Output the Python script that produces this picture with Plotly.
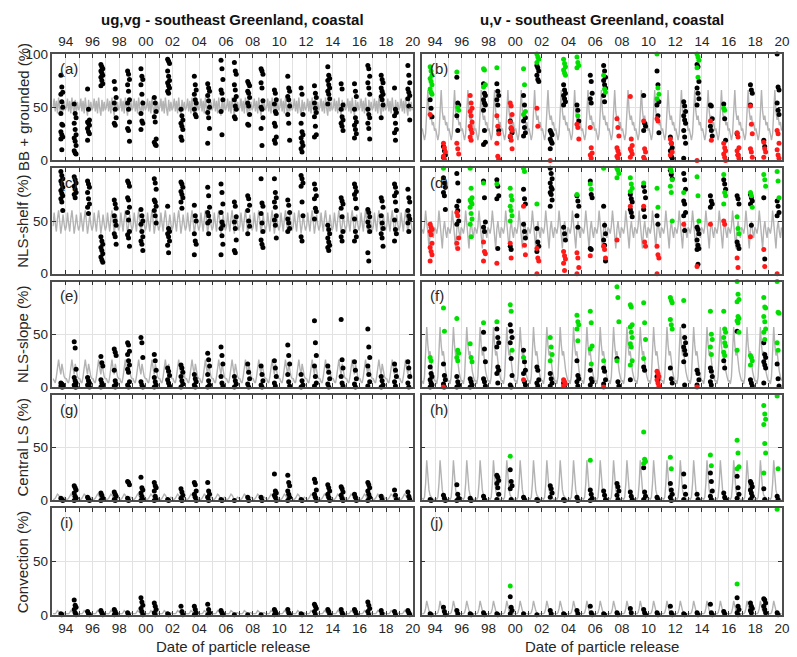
import plotly.graph_objects as go

W, H = 797, 657

years = list(range(1993, 2020))
release_offsets = [0.63, 0.70, 0.77]
label_years = [1994, 1996, 1998, 2000, 2002, 2004, 2006, 2008, 2010, 2012, 2014, 2016,
               2018, 2020]
label_text = ["94", "96", "98", "00", "02", "04", "06", "08", "10", "12", "14", "16",
              "18", "20"]
minor_years = list(range(1993, 2021))

# ---------------- left column (ug,vg) black dots, one list per year 1993..2019
a_black = [[80, 69, 64, 62, 55, 50, 44, 34, 33, 27, 24, 22, 20, 10],
           [53, 44, 40, 35, 29, 24, 21, 18, 14, 9, 7, 6],
           [67, 48, 38, 36, 35, 33, 30, 27, 25, 19],
           [90, 88, 86, 84, 82, 80, 78, 75, 72, 70],
           [74, 67, 59, 54, 48, 40, 35, 33],
           [84, 81, 76, 71, 65, 57, 54, 48, 36, 30, 28, 18],
           [86, 79, 76, 71, 62, 54, 44, 37, 35, 29],
           [59, 54, 46, 41, 36, 20, 17, 15, 14],
           [95, 93, 91, 84, 79, 75, 73, 70, 68, 65, 63],
           [48, 42, 38, 35, 32, 29, 22, 19],
           [79, 71, 66, 62, 57, 54, 48, 43, 41],
           [72, 68, 65, 61, 56, 50, 45, 40, 30, 16],
           [94, 86, 76, 66, 63, 57, 46, 24],
           [92, 84, 81, 71, 66, 60, 57, 51, 48, 41, 39],
           [74, 72, 70, 65, 63, 59, 54, 51, 43, 34, 33],
           [86, 84, 81, 73, 68, 56, 50, 48, 40, 30, 14],
           [66, 63, 57, 53, 46, 44, 35, 32, 22, 19, 16],
           [79, 68, 65, 60, 57, 51, 43, 35, 19],
           [68, 62, 43, 35, 27, 24, 21, 17, 14, 11, 8],
           [70, 63, 59, 54, 49, 45, 41, 32, 24, 22],
           [88, 80, 77, 75, 71, 68, 65, 62, 58, 53],
           [72, 67, 52, 48, 41, 38, 35, 32, 28],
           [72, 65, 60, 48, 40, 36, 33, 29, 25, 21],
           [89, 86, 79, 73, 68, 62, 48, 43, 40, 35, 30, 20],
           [80, 76, 73, 68, 65, 62, 60, 57, 52, 40],
           [68, 48, 45, 42, 35, 29, 26, 19],
           [89, 80, 73, 67, 64, 61, 58, 51, 38]]

c_black = [[97, 93, 90, 88, 85, 82, 79, 76, 74, 71, 68, 60],
           [92, 89, 86, 83, 80, 77, 75, 72],
           [88, 85, 82, 77, 71, 66, 63, 57],
           [35, 31, 28, 25, 22, 19, 16, 13, 11],
           [70, 66, 62, 55, 50, 46, 38, 35, 28],
           [88, 86, 83, 72, 70, 63, 58, 51, 40, 37, 34, 26],
           [61, 55, 50, 47, 40, 35, 31, 28, 22],
           [90, 86, 80, 70, 68, 64, 60, 55, 48],
           [64, 43, 40, 38, 35, 31, 27, 20],
           [87, 85, 82, 78, 75, 72, 68, 62],
           [65, 55, 50, 38, 31, 28, 18],
           [82, 74, 63, 58, 55, 50, 48, 38],
           [85, 77, 66, 58, 49, 46, 43, 36, 28, 18],
           [68, 64, 54, 49, 43, 32, 22, 20],
           [74, 71, 65, 60, 50, 45, 38],
           [90, 67, 64, 57, 48, 40, 32, 28, 25],
           [90, 77, 72, 68, 63, 55, 51, 46, 34],
           [70, 65, 58, 52, 48, 43, 40],
           [93, 90, 86, 83, 68, 55, 35, 31],
           [85, 80, 74, 71, 62, 59, 52],
           [46, 42, 38, 34, 30, 27, 25, 22],
           [72, 69, 66, 62, 54, 40, 35, 31],
           [85, 82, 78, 75, 71, 62, 52, 40, 35, 31],
           [61, 58, 54, 49, 45, 40, 20, 12],
           [72, 69, 63, 55, 48, 43, 38, 34, 26],
           [85, 82, 77, 74, 68, 60, 51, 42, 38, 31],
           [80, 72, 68, 60, 55, 52, 48, 40]]

e_black = [[4, 3, 2, 1, 0, 0],
           [43, 37, 17, 9, 6, 4, 2, 0, 0],
           [9, 6, 4, 2, 1, 0],
           [29, 23, 20, 7, 4, 2, 0],
           [36, 33, 30, 16, 6, 3, 1, 0],
           [42, 40, 34, 31, 25, 21, 17, 14, 5, 2, 0],
           [47, 42, 28, 5, 2, 0],
           [31, 25, 16, 9, 5, 2, 0],
           [18, 15, 11, 7, 4, 1],
           [21, 18, 14, 10, 6, 3, 0],
           [12, 8, 5, 2, 0],
           [32, 26, 20, 12, 6, 2, 0],
           [38, 30, 22, 10, 4, 1],
           [10, 6, 3, 0],
           [22, 14, 8, 3, 0],
           [20, 12, 6, 2, 0],
           [25, 18, 10, 4, 1],
           [40, 30, 22, 12, 5, 1],
           [12, 6, 2, 0],
           [63, 42, 30, 20, 10, 4, 1],
           [20, 14, 8, 3, 0],
           [64, 26, 18, 10, 4, 1],
           [24, 16, 8, 3, 0],
           [55, 38, 28, 20, 12, 5, 1],
           [10, 6, 2, 0],
           [22, 16, 10, 5, 1],
           [24, 18, 10, 4, 0]]

g_black = [[2, 1, 0],
           [14, 12, 10, 7, 4, 2, 0],
           [3, 1, 0],
           [7, 5, 2, 0],
           [8, 6, 4, 1, 0],
           [18, 17, 15, 2, 0],
           [22, 12, 10, 7, 4, 1, 0],
           [17, 14, 12, 9, 4, 1, 0],
           [1, 0],
           [11, 8, 5, 2, 0],
           [17, 15, 9, 6, 3, 0],
           [17, 9, 6, 3, 0],
           [1, 0],
           [0],
           [3, 0],
           [3, 0],
           [25, 9, 7, 5, 3, 0],
           [24, 17, 14, 9, 6, 3, 0],
           [1, 0],
           [20, 17, 10, 6, 3, 0],
           [15, 12, 9, 6, 3, 0],
           [13, 11, 8, 5, 2, 0],
           [6, 3, 0],
           [17, 15, 12, 9, 6, 3, 0],
           [4, 1],
           [10, 5, 1],
           [8, 4, 1]]

i_black = [[1, 0],
           [14, 9, 7, 5, 2, 0],
           [3, 1, 0],
           [4, 2, 0],
           [5, 3, 1, 0],
           [2, 0],
           [16, 12, 9, 6, 3, 0],
           [11, 8, 5, 2, 0],
           [1, 0],
           [8, 3, 0],
           [8, 5, 2, 0],
           [10, 5, 2, 0],
           [4, 2, 0],
           [0],
           [0],
           [0],
           [5, 3, 1, 0],
           [5, 2, 0],
           [1, 0],
           [10, 8, 6, 3, 0],
           [5, 3, 0],
           [5, 2, 0],
           [5, 3, 0],
           [12, 9, 6, 3, 0],
           [4, 1],
           [3, 0],
           [4, 2, 0]]

# ---------------- right column (u,v): black, green, red dots per year 1993..2019
b_black = [[57, 49, 41], [13, 9, 5, 3], [78, 54, 52, 42, 28], [],
           [72, 63, 61, 57, 54, 52, 47, 28, 17, 15], [72, 65, 61, 57, 52, 28],
           [37, 30, 26, 22], [61, 52, 40, 37, 31, 26, 23], [89, 87, 84, 80, 76, 74],
           [28, 26, 24, 20, 18, 16, 11], [71, 66, 63, 61, 58, 55, 52], [52, 47, 37],
           [80, 74, 63, 58, 54], [89, 84, 78, 75, 71, 68, 61, 55], [], [],
           [61, 35, 32, 28], [84, 71, 55, 52, 42, 26], [22, 16, 12, 9, 4, 2],
           [55, 51, 46, 42, 38, 35, 28, 22, 16, 2], [90, 88, 74, 68, 63, 58, 52],
           [52, 51, 39, 32, 28, 23], [53, 39, 19], [25, 5], [71, 66, 63, 52],
           [19, 13], [100, 69, 66, 54, 47, 43]]
b_green = [[88, 84, 80, 77, 74, 71, 67, 64, 62], [], [83, 50, 47], [], [86, 85, 71, 69],
           [87], [], [86, 71, 46, 43], [100, 97, 95, 92], [], [95, 91, 88, 85, 82, 80],
           [97, 92, 89, 87, 42], [], [80, 67, 64], [], [], [], [100, 68, 62, 58], [], [],
           [100, 97, 94, 87, 78], [], [49, 47], [], [], [], []]
b_red = [[43], [16, 12, 8, 4, 1], [16, 11, 6], [61, 54, 49, 46, 42, 36, 32, 29, 26, 22, 19],
         [], [42, 32, 25, 16, 4, 1], [54, 51, 43, 36, 31, 28, 23, 19, 11], [], [49, 32],
         [0], [], [34, 31, 20], [31, 12, 7, 5, 2], [], [39, 31, 23, 12, 9, 6, 4, 2],
         [60, 20, 14, 11, 9, 6, 3], [37, 11, 8, 3, 1], [39, 37], [20, 16, 8, 5], [], [0],
         [37, 19], [16, 12, 9, 6, 3, 0], [26, 22, 12, 9, 5, 2], [51, 34, 25, 11, 8, 3],
         [17, 11, 8, 3], [28, 25, 16, 10, 5, 2]]

d_black = [[], [91, 86, 82, 77, 74, 61], [95, 86, 69, 64, 60, 50, 47], [],
           [88, 72, 49, 44, 40], [89, 83, 74, 71, 24], [26, 23], [80, 71, 66, 47, 40, 34],
           [43, 30, 26, 21], [100, 95, 90, 86, 82, 80, 77, 75, 70, 64], [44, 38, 32],
           [74, 69, 64, 55, 44], [88, 75, 72, 24, 23], [64, 46, 38, 32, 27, 12], [],
           [75, 71, 68, 61, 58, 54], [83, 78, 72, 61, 54], [55, 47], [98, 94, 90],
           [95, 89, 80, 69, 66, 58, 55, 41], [44, 42, 38, 32, 27, 24, 23, 9],
           [74, 69, 66, 63], [89, 85, 80], [74, 71, 66, 30, 27, 24], [75, 72, 69, 66, 46],
           [72, 14], [69, 64, 58, 55]]
d_green = [[], [100], [], [100, 81, 72, 70, 68, 66, 63, 57, 52, 47, 35], [86], [85],
           [81, 74, 70, 64, 60, 55, 50], [100, 97], [66], [], [], [75], [85, 80], [100],
           [100, 98, 95, 91], [91, 85, 81, 78], [86], [81, 63], [100, 97, 89, 83, 77, 50],
           [77], [92, 74, 50], [], [94, 77, 74, 66], [54, 43, 38], [77, 74, 63],
           [94, 89, 83], [97, 88, 72]]
d_red = [[47, 44, 42, 40, 37, 29, 25, 21, 18, 12], [], [58, 55, 34, 29, 24], [],
         [30, 21, 19, 12], [10], [29, 15], [64, 27, 18], [24, 15, 12, 0], [],
         [21, 17, 14, 10, 3], [20, 15, 6, 0], [17], [26, 23, 15], [32], [64],
         [64, 30, 26], [26, 18, 15, 0], [], [47], [7], [47], [50, 47], [15, 6], [35],
         [23, 7], [0]]

f_black = [[19, 13, 10, 7, 4, 2, 0], [22, 11, 7, 3, 0], [10, 5, 2, 0], [8, 5, 2, 0],
           [52, 36, 24, 8, 5, 1], [55, 47, 42, 38, 19, 16, 13, 4],
           [59, 53, 47, 42, 27, 11, 2, 0], [35, 24, 16, 13, 5, 2], [19, 16, 7, 4, 1],
           [13, 8, 4, 1], [4, 1], [25, 11, 8, 5, 1], [16, 8, 5, 2], [18, 15, 7, 3],
           [27, 5, 1], [7], [19, 16], [10, 7], [18, 8, 4],
           [58, 47, 42, 38, 35, 31, 24, 2], [16, 13, 7, 2], [18, 15, 10, 5, 2], [25, 18],
           [53], [7, 4, 1], [42, 31, 28, 24, 21, 18, 4], [22, 8, 1]]
f_green = [[28, 25], [75, 53], [65, 35, 32, 28, 25], [41, 28, 24], [61], [62],
           [78, 72, 35], [28], [], [47, 38, 31, 25], [], [68, 62, 59, 55, 44],
           [72, 61, 39, 36, 22], [25], [95, 85, 62, 25],
           [78, 76, 59, 57, 52, 47, 41, 38, 25, 21], [80, 61, 45, 27], [],
           [85, 82, 80, 64, 59, 55], [82], [], [72, 50, 45, 38, 31],
           [72, 55, 52, 47, 42, 39, 33, 30], [100, 88, 83, 81, 67, 65, 63, 61, 52, 35],
           [30, 28, 25, 21], [85, 76, 75, 67, 62, 55, 52, 45], [100, 71, 70, 42, 35]]
f_red = [[], [0], [], [], [], [], [], [7], [], [], [7, 5, 3, 1], [], [], [0], [], [], [],
         [15, 13, 10, 7, 4, 1], [], [], [0], [], [], [], [], [], []]

h_black = [[1, 0], [5, 2, 0], [15, 6, 2, 0], [2, 0], [4, 1], [24, 22, 19, 16, 12, 6, 1],
           [29, 18, 14, 11, 1], [3, 1], [1, 0], [14, 11, 7, 3], [1, 0], [3, 0],
           [10, 6, 2, 0], [9, 5, 1], [16, 13, 9, 5, 1], [8, 4, 1], [31, 8, 4, 1], [3, 1],
           [16, 10, 6, 3, 0], [25, 13, 6, 1], [6, 1], [26, 18, 9, 4, 1], [7, 3, 1],
           [23, 12, 6, 2], [18, 16, 13, 10, 7, 4, 1], [11, 1], [4, 1]]
h_green = [[], [], [], [], [], [], [42], [], [], [], [], [], [38], [], [], [],
           [65, 39, 37, 35], [], [41, 30], [], [], [43, 33], [], [57, 45, 32, 30], [],
           [90, 82, 77, 72, 54, 45, 26], [99, 30]]

j_black = [[1, 0], [7, 3, 0], [4, 1], [1, 0], [2, 0], [1, 0], [17, 7, 4, 1], [1], [0],
           [4, 1], [1, 0], [4, 1], [8, 2, 0], [1, 0], [2, 0], [6, 2], [5, 2, 0], [2, 0],
           [8, 2, 0], [1, 0], [2, 0], [10, 2, 0], [3, 1], [16, 8, 5, 2, 0],
           [11, 8, 6, 4, 2], [15, 14, 11, 8, 5, 2], [2, 0]]
j_green = [[], [], [], [], [], [], [27], [], [], [], [], [], [], [], [], [], [], [], [],
           [], [], [], [], [29], [], [], [99]]

# ---------------- gray seasonal curves (monthly values of one year, repeated each year)
a_cycle = [50, 58, 46, 56, 44, 59, 49, 42, 57, 46, 55, 47]
c_cycle = [45, 58, 48, 40, 52, 60, 50, 38, 46, 56, 47, 41]
e_cycle = [8, 5, 4, 10, 20, 26, 18, 12, 22, 15, 10, 8]
g_cycle = [1, 1, 2, 4, 6, 5, 2, 1, 1, 2, 3, 2]
i_cycle = [1, 1, 1, 2, 4, 3, 2, 1, 1, 2, 2, 1]
b_cycle = [30, 22, 19, 25, 45, 66, 46, 38, 42, 33, 36, 28]
d_cycle = [42, 38, 45, 60, 48, 40, 24, 42, 50, 40, 34, 44]
f_cycle = [6, 3, 10, 32, 57, 40, 30, 34, 22, 15, 10, 6]
h_cycle = [2, 1, 3, 16, 38, 20, 10, 5, 3, 2, 1, 1]
j_cycle = [1, 1, 2, 6, 13, 8, 4, 2, 1, 1, 1, 1]

GREEN = "#00e000"
RED = "#ff1a1a"
BLACK = "#000000"
GRAY = "#b3b3b3"

# panel layout in pixels
col_x = [(53, 417), (426, 790)]
row_y = [(48, 157), (165, 273), (281, 389), (397, 505), (513, 622)]

panels = [
    ("a", 0, 0, a_cycle, [(a_black, BLACK)]),
    ("b", 0, 1, b_cycle, [(b_black, BLACK), (b_green, GREEN), (b_red, RED)]),
    ("c", 1, 0, c_cycle, [(c_black, BLACK)]),
    ("d", 1, 1, d_cycle, [(d_black, BLACK), (d_green, GREEN), (d_red, RED)]),
    ("e", 2, 0, e_cycle, [(e_black, BLACK)]),
    ("f", 2, 1, f_cycle, [(f_black, BLACK), (f_green, GREEN), (f_red, RED)]),
    ("g", 3, 0, g_cycle, [(g_black, BLACK)]),
    ("h", 3, 1, h_cycle, [(h_black, BLACK), (h_green, GREEN)]),
    ("i", 4, 0, i_cycle, [(i_black, BLACK)]),
    ("j", 4, 1, j_cycle, [(j_black, BLACK), (j_green, GREEN)]),
]
ylabels = ["BB + grounded (%)", "NLS-shelf (%)", "NLS-slope (%)", "Central LS (%)",
           "Convection (%)"]

FONT = "Arial, Liberation Sans, Helvetica, sans-serif"
TXT = "#262626"

fig = go.Figure()
layout = {}
annotations = []

for k, (lab, r, c, cycle, groups) in enumerate(panels):
    n = k + 1
    xa = "x" if n == 1 else f"x{n}"
    ya = "y" if n == 1 else f"y{n}"
    lx, ly = [], []
    for yr in years:
        for m, v in enumerate(cycle):
            lx.append(yr + (m + 0.5) / 12)
            ly.append(v)
    fig.add_trace(go.Scatter(x=lx, y=ly, mode="lines", xaxis=xa, yaxis=ya,
                             line=dict(color=GRAY, width=1.4), showlegend=False,
                             hoverinfo="skip"))
    for data, col in groups:
        xs, ys = [], []
        for yr, vals in zip(years, data):
            for q, v in enumerate(vals):
                xs.append(yr + release_offsets[q % 3])
                ys.append(v)
        fig.add_trace(go.Scatter(x=xs, y=ys, mode="markers", xaxis=xa, yaxis=ya,
                                 marker=dict(color=col, size=5), cliponaxis=False,
                                 showlegend=False))
    x0, x1 = col_x[c]
    y0, y1 = row_y[r]
    xkey = "xaxis" if n == 1 else f"xaxis{n}"
    ykey = "yaxis" if n == 1 else f"yaxis{n}"
    show_x = (r == 0 or r == 4)
    layout[xkey] = dict(
        domain=[x0 / W, x1 / W], anchor=ya, range=[1993, 2020],
        tickmode="array", tickvals=label_years,
        ticktext=label_text if show_x else None,
        ticks="inside", ticklen=4, tickcolor="#333333", tickwidth=1,
        minor=dict(tickmode="array", tickvals=minor_years, ticks="inside", ticklen=4,
                   tickcolor="#333333", tickwidth=1, showgrid=True,
                   gridcolor="#e2e2e2", gridwidth=1),
        showline=True, mirror="ticks", linecolor="#4d4d4d", linewidth=1.5,
        showgrid=True, gridcolor="#e2e2e2", gridwidth=1, zeroline=False,
        showticklabels=show_x, side="top" if r == 0 else "bottom",
        ticklabelstandoff=1 if r == 0 else 0,
        tickfont=dict(family=FONT, size=13.5, color=TXT), fixedrange=True,
    )
    layout[ykey] = dict(
        domain=[1 - y1 / H, 1 - y0 / H], anchor=xa, range=[0, 100],
        tickmode="array", tickvals=[0, 50, 100] if r == 0 else [0, 50],
        ticks="inside", ticklen=4, tickcolor="#333333",
        showline=True, mirror="ticks", linecolor="#4d4d4d", linewidth=1.5,
        showgrid=True, gridcolor="#e2e2e2", zeroline=False,
        showticklabels=(c == 0), tickfont=dict(family=FONT, size=13.5, color=TXT),
        fixedrange=True,
    )
    annotations.append(dict(text=f"({lab})", x=(x0 + 6) / W, y=1 - (y0 + 4) / H,
                            xref="paper", yref="paper", xanchor="left", yanchor="top",
                            showarrow=False, font=dict(family=FONT, size=15, color=TXT)))
    if c == 0:
        annotations.append(dict(text=ylabels[r], x=23 / W, y=1 - (y0 + y1) / 2 / H,
                                xref="paper", yref="paper", textangle=-90,
                                xanchor="center", yanchor="middle", showarrow=False,
                                font=dict(family=FONT, size=15, color=TXT)))

for (x0, x1), title in zip(col_x, ["ug,vg - southeast Greenland, coastal",
                                   "u,v - southeast Greenland, coastal"]):
    annotations.append(dict(text=f"<b>{title}</b>", x=(x0 + x1) / 2 / W, y=1 - 2 / H,
                            xref="paper", yref="paper", xanchor="center",
                            yanchor="top", showarrow=False,
                            font=dict(family=FONT, size=15, color="#111111")))
    annotations.append(dict(text="Date of particle release", x=(x0 + x1) / 2 / W,
                            y=1 - 644 / H, xref="paper", yref="paper",
                            xanchor="center", yanchor="top", showarrow=False,
                            font=dict(family=FONT, size=15, color=TXT)))

fig.update_layout(width=W, height=H, margin=dict(l=0, r=0, t=0, b=0),
                  paper_bgcolor="white", plot_bgcolor="white",
                  annotations=annotations, showlegend=False, **layout)
fig.write_html("out.html")
